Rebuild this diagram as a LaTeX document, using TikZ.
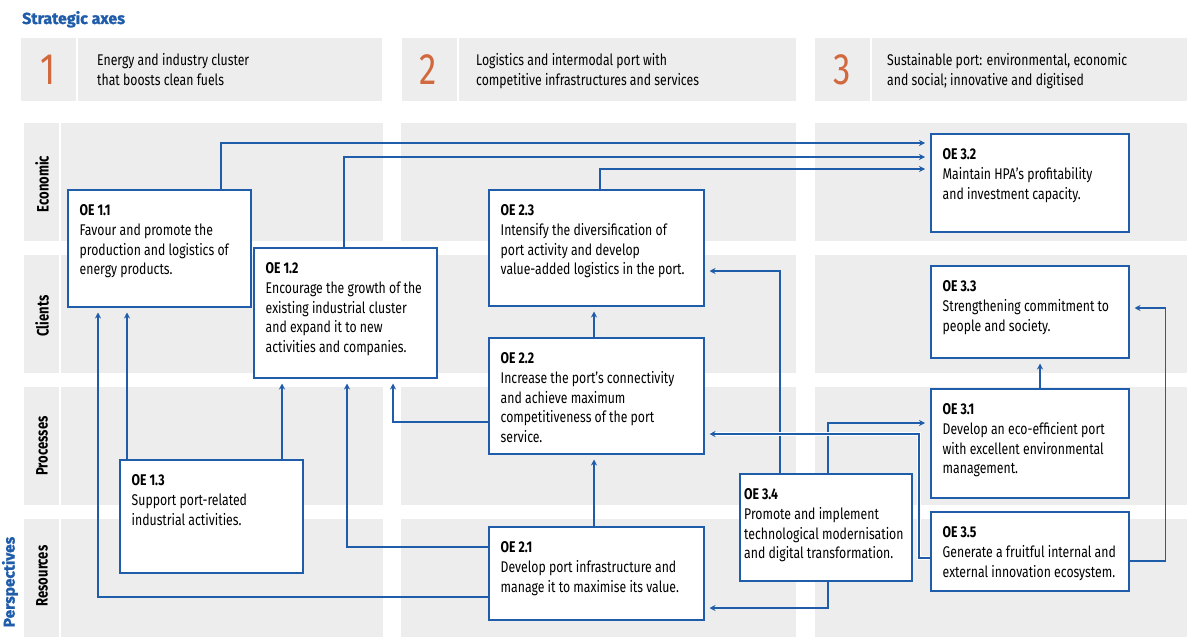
\documentclass[tikz,border=0pt]{standalone}
\usepackage{fontspec}
\setmainfont{Fira Sans}[FakeStretch=0.79]
\newfontfamily\widefont{Fira Sans}[BoldFeatures={FakeBold=1.2}]
\usetikzlibrary{positioning}
\usetikzlibrary{arrows.meta}

\definecolor{oeblue}{HTML}{1F5CA9}
\definecolor{axisorange}{HTML}{D2693E}
\definecolor{panelgray}{HTML}{EDEDED}

\newcommand{\oefont}{\fontsize{15.5}{19.8}\selectfont}

\tikzset{
  oebox/.style={draw=oeblue, line width=1.5pt, fill=white, anchor=north west, inner sep=0pt},
  oetext/.style={anchor=base west, inner sep=0pt, font=\oefont},
  headtext/.style={anchor=base west, inner sep=0pt, font=\oefont},
  axisnum/.style={text=axisorange, font=\fontsize{44}{44}\selectfont, inner sep=0pt},
  rowlabel/.style={rotate=90, font=\bfseries\fontsize{16.5}{18}\selectfont, inner sep=0pt},
  link/.style={draw=oeblue, line width=1.4pt, -{Stealth[length=6pt,width=6pt,inset=2pt]}, shorten >=5pt},
  bridge/.style={preaction={draw=white, line width=4.5pt, -}}
}

\begin{document}
\begin{tikzpicture}[x=1pt,y=-1pt]
  \useasboundingbox (0,0) rectangle (1200,642);

  % strategic axes
  \node [anchor=base west, inner sep=0pt, text=oeblue, font=\widefont\bfseries\fontsize{16}{18}\selectfont] (axestitle) at (22,24) {Strategic axes};
  \foreach \xa/\xb in {21/382, 402/796, 815/1187} {
    \fill [panelgray] (\xa,38) rectangle (\xb,101);
    \fill [white] (\xa+54.5,38) rectangle (\xa+56.5,101);
  }
  \node [axisnum] (num1) at (48,70)  {1};
  \node [axisnum] (num2) at (428,70) {2};
  \node [axisnum] (num3) at (842,70) {3};
  \node [headtext] (axis1) at (97,66)  {\parbox[t]{260pt}{Energy and industry cluster\\that boosts clean fuels}};
  \node [headtext] (axis2) at (476,66) {\parbox[t]{300pt}{Logistics and intermodal port with\\competitive infrastructures and services}};
  \node [headtext] (axis3) at (887,66) {\parbox[t]{300pt}{Sustainable port: environmental, economic\\and social; innovative and digitised}};

  % perspectives
  \foreach \ya in {123, 255, 387, 519} {
    \fill [panelgray] (24,\ya) rectangle (59,\ya+118);
    \fill [panelgray] (61,\ya) rectangle (383,\ya+118);
    \fill [panelgray] (401,\ya) rectangle (796,\ya+118);
    \fill [panelgray] (815,\ya) rectangle (1187,\ya+118);
  }
  \node [rowlabel] (economic)  at (42,184) {Economic};
  \node [rowlabel] (clients)   at (42,316) {Clients};
  \node [rowlabel] (processes) at (42,446) {Processes};
  \node [rowlabel] (resources) at (42,576) {Resources};
  \node [rotate=90, inner sep=0pt, text=oeblue, font=\widefont\bfseries\fontsize{15.5}{18}\selectfont] (persp) at (10,582) {Perspectives};

  % objectives
  \node [oebox, minimum width=183, minimum height=117] (oe11) at (67,189)  {};
  \node [oebox, minimum width=183, minimum height=130] (oe12) at (253,247) {};
  \node [oebox, minimum width=183, minimum height=113] (oe13) at (119,459) {};
  \node [oebox, minimum width=215, minimum height=116] (oe23) at (488,189) {};
  \node [oebox, minimum width=215, minimum height=116] (oe22) at (488,337) {};
  \node [oebox, minimum width=215, minimum height=93]  (oe21) at (488,526) {};
  \node [oebox, minimum width=172, minimum height=107] (oe34) at (739,473) {};
  \node [oebox, minimum width=198, minimum height=98]  (oe32) at (930,133) {};
  \node [oebox, minimum width=198, minimum height=92]  (oe33) at (930,265) {};
  \node [oebox, minimum width=198, minimum height=109] (oe31) at (930,388) {};
  \node [oebox, minimum width=198, minimum height=79]  (oe35) at (930,511) {};

  \node [oetext] (oe11t) at ([shift={(12.5,26.5)}]oe11.north west) {\parbox[t]{200pt}{\textbf{OE 1.1}\\Favour and promote the\\production and logistics of\\energy products.}};
  \node [oetext] (oe12t) at ([shift={(12.5,26.5)}]oe12.north west) {\parbox[t]{200pt}{\textbf{OE 1.2}\\Encourage the growth of the\\existing industrial cluster\\and expand it to new\\activities and companies.}};
  \node [oetext] (oe13t) at ([shift={(12.5,26.5)}]oe13.north west) {\parbox[t]{200pt}{\textbf{OE 1.3}\\Support port-related\\industrial activities.}};
  \node [oetext] (oe23t) at ([shift={(12.5,26.5)}]oe23.north west) {\parbox[t]{220pt}{\textbf{OE 2.3}\\Intensify the diversification of\\port activity and develop\\value-added logistics in the port.}};
  \node [oetext] (oe22t) at ([shift={(12.5,26.5)}]oe22.north west) {\parbox[t]{220pt}{\textbf{OE 2.2}\\Increase the port's connectivity\\and achieve maximum\\competitiveness of the port\\service.}};
  \node [oetext] (oe21t) at ([shift={(12.5,26.5)}]oe21.north west) {\parbox[t]{220pt}{\textbf{OE 2.1}\\Develop port infrastructure and\\manage it to maximise its value.}};
  \node [oetext] (oe34t) at ([shift={(5,26.5)}]oe34.north west) {\parbox[t]{200pt}{\textbf{OE 3.4}\\Promote and implement\\technological modernisation\\and digital transformation.}};
  \node [oetext] (oe32t) at ([shift={(12.5,26.5)}]oe32.north west) {\parbox[t]{200pt}{\textbf{OE 3.2}\\Maintain HPA's profitability\\and investment capacity.}};
  \node [oetext] (oe33t) at ([shift={(12.5,26.5)}]oe33.north west) {\parbox[t]{200pt}{\textbf{OE 3.3}\\Strengthening commitment to\\people and society.}};
  \node [oetext] (oe31t) at ([shift={(12.5,26.5)}]oe31.north west) {\parbox[t]{200pt}{\textbf{OE 3.1}\\Develop an eco-efficient port\\with excellent environmental\\management.}};
  \node [oetext] (oe35t) at ([shift={(12.5,26.5)}]oe35.north west) {\parbox[t]{200pt}{\textbf{OE 3.5}\\Generate a fruitful internal and\\external innovation ecosystem.}};

  % links
  \draw [link] (221,0 |- oe11.north) |- (oe32.west |- 0,143);
  \draw [link] (344,0 |- oe12.north) |- (oe32.west |- 0,157);
  \draw [link] (600,0 |- oe23.north) |- (oe32.west |- 0,169);
  \draw [link] (127,0 |- oe13.north) -- (127,0 |- oe11.south);
  \draw [link] (282,0 |- oe13.north) -- (282,0 |- oe12.south);
  \draw [link] (oe21.west |- 0,597) -| (98,0 |- oe11.south);
  \draw [link] (oe21.west |- 0,547) -| (347,0 |- oe12.south);
  \draw [link] (oe22.west |- 0,422) -| (393,0 |- oe12.south);
  \draw [link] (594,0 |- oe21.north) -- (594,0 |- oe22.south);
  \draw [link] (594,0 |- oe22.north) -- (594,0 |- oe23.south);
  \draw [link] (780,0 |- oe34.north) |- (oe23.east |- 0,271);
  \draw [link] (828,0 |- oe34.north) |- (oe31.west |- 0,423);
  \draw [link] (828,0 |- oe34.south) |- (oe21.east |- 0,608);
  \draw [link, bridge] (oe35.west |- 0,558) -- ++(-11,0) |- (oe22.east |- 0,434);
  \draw [link] (1040,0 |- oe31.north) -- (1040,0 |- oe33.south);
  \draw [link] (oe35.east |- 0,561) -- ++(36,0) |- (oe33.east |- 0,308);
\end{tikzpicture}
\end{document}
